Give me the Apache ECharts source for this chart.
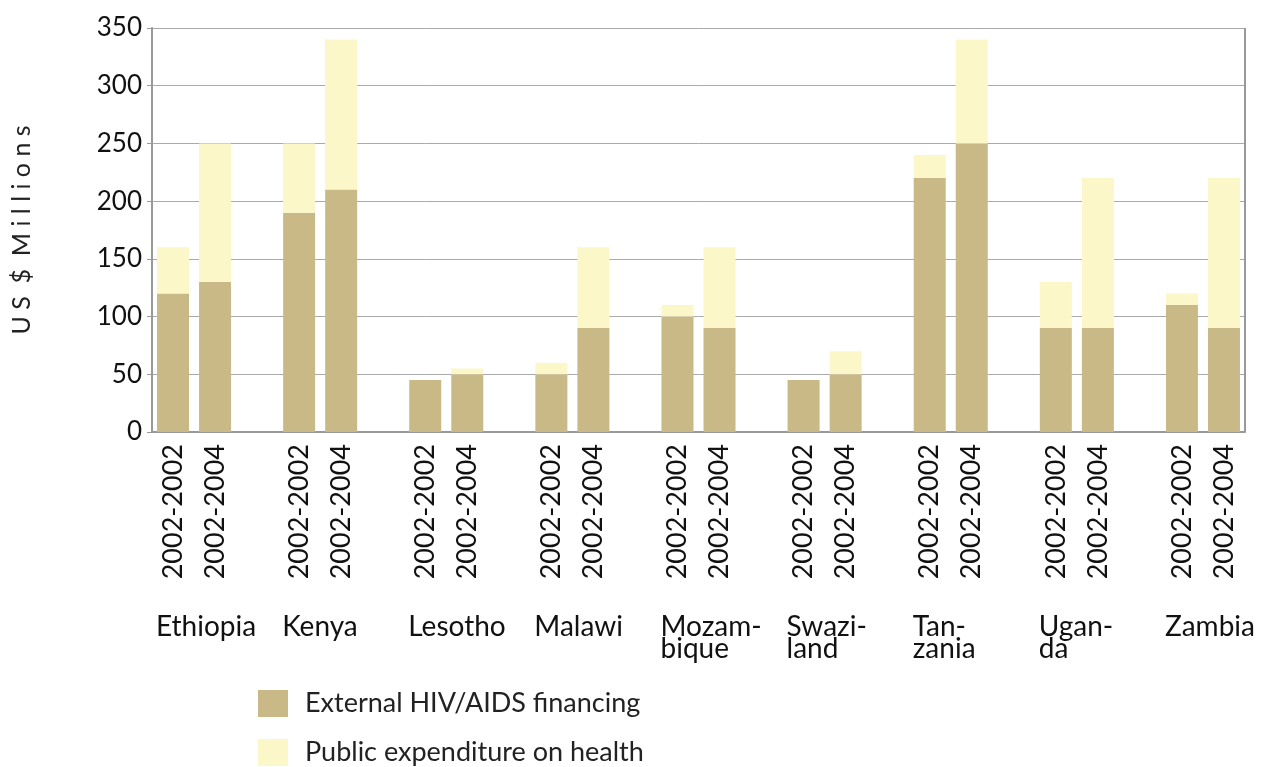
<!DOCTYPE html>
<html><head><meta charset="utf-8">
<script src="https://cdn.jsdelivr.net/npm/echarts@6/dist/echarts.min.js"></script>
<style>html,body{margin:0;background:#fff}#c{width:1265px;height:767px}</style>
</head><body><div id="c"></div>
<script>
var countries = ['Ethiopia', 'Kenya', 'Lesotho', 'Malawi', 'Mozam-\nbique', 'Swazi-\nland', 'Tan-\nzania', 'Ugan-\nda', 'Zambia'];
var periods = ['2002-2002', '2002-2004'];
// external HIV/AIDS financing per country, [first, second]
var external = [[120, 130], [190, 210], [45, 50], [50, 90], [100, 90], [45, 50], [220, 250], [90, 90], [110, 90]];
// totals (top of each stacked bar)
var totals = [[160, 250], [250, 340], [45, 55], [60, 160], [110, 160], [45, 70], [240, 340], [130, 220], [120, 220]];

var cats = [], extData = [], pubData = [];
countries.forEach(function(c, i) {
    for (var j = 0; j < 2; j++) {
        cats.push(periods[j]);
        extData.push(external[i][j]);
        pubData.push(totals[i][j] - external[i][j]);
    }
    if (i < countries.length - 1) {
        cats.push('');
        extData.push('-');
        pubData.push('-');
    }
});

var font = 'Lato, "Open Sans", sans-serif';
var legendText = {fontFamily: font, fontSize: 27, color: '#222', padding: [0, 0, 0, 12]};
var chart = echarts.init(document.getElementById('c'));
var option = {
    animation: false,
    grid: {left: 152, right: 20, top: 28, bottom: 335, containLabel: false},
    legend: [
        {left: 253, top: 685, itemWidth: 30, itemHeight: 27, icon: 'rect',
         textStyle: legendText, data: ['External HIV/AIDS financing']},
        {left: 253, top: 734, itemWidth: 30, itemHeight: 27, icon: 'rect',
         textStyle: legendText, data: ['Public expenditure on health']}
    ],
    xAxis: {
        type: 'category', data: cats,
        axisLine: {lineStyle: {color: '#999', width: 2}},
        axisTick: {inside: true, length: 8, interval: 0, lineStyle: {color: '#999', width: 2}},
        axisLabel: {interval: 0, rotate: 90, fontFamily: font, fontSize: 27, color: '#111', margin: 12}
    },
    yAxis: {
        type: 'value', min: 0, max: 350, interval: 50,
        name: 'U S  $  M i l l i o n s', nameLocation: 'middle', nameGap: 118,
        nameTextStyle: {fontFamily: font, fontSize: 25, color: '#222'},
        axisLine: {show: true, lineStyle: {color: '#999', width: 2}},
        axisTick: {show: true, length: 5, lineStyle: {color: '#999'}},
        splitLine: {lineStyle: {color: '#aaa', width: 1}},
        axisLabel: {fontFamily: font, fontSize: 26, color: '#111', margin: 10}
    },
    series: [
        {name: 'External HIV/AIDS financing', type: 'bar', stack: 's', data: extData,
         barWidth: 32, itemStyle: {color: '#c8b987'}},
        {name: 'Public expenditure on health', type: 'bar', stack: 's', data: pubData,
         barWidth: 32, itemStyle: {color: '#fbf7c8'}}
    ]
};
chart.setOption(option);

// right border and country names
var graphics = [{type: 'line', shape: {x1: 1245, y1: 28, x2: 1245, y2: 432}, style: {stroke: '#999', lineWidth: 2}}];
countries.forEach(function(c, i) {
    var px = chart.convertToPixel({xAxisIndex: 0}, i * 3);
    graphics.push({type: 'text', left: px - 17, top: 613,
        style: {text: c, fontFamily: font, fontSize: 28, fill: '#111', lineHeight: 22}});
});
chart.setOption({graphic: graphics});
</script></body></html>
